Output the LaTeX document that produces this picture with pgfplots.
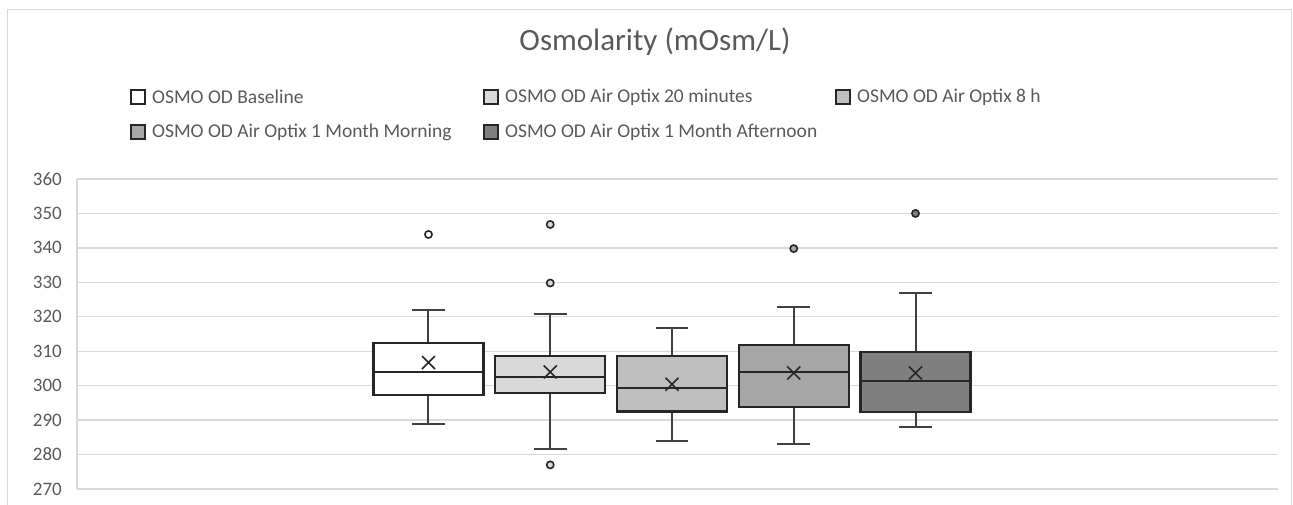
\documentclass[border=0pt]{standalone}
\usepackage{fontspec}
\setmainfont{Carlito}
\usepackage{pgfplots}
\pgfplotsset{compat=1.18}
\definecolor{txt}{HTML}{595959}
\definecolor{gridc}{HTML}{D9D9D9}
\definecolor{c1}{HTML}{FFFFFF}
\definecolor{c2}{HTML}{D9D9D9}
\definecolor{c3}{HTML}{BFBFBF}
\definecolor{c4}{HTML}{A6A6A6}
\definecolor{c5}{HTML}{7F7F7F}
\definecolor{edge}{HTML}{262626}
\definecolor{wh}{HTML}{404040}
\begin{document}
\begin{tikzpicture}
\path[use as bounding box] (0pt,0pt) rectangle (1293pt,505pt);
% chart border
\draw[gridc, line width=1pt] (7pt,0pt) -- (7pt,495pt) -- (1291pt,495pt) -- (1291pt,0pt);
% title
\node[text=txt, font=\fontsize{31}{31}\selectfont] at (655pt,463pt) {Osmolarity (mOsm/L)};
% legend
\foreach \xx/\yy/\cc/\lab in {131/408/c1/{OSMO OD Baseline},484/408/c2/{OSMO OD Air Optix 20 minutes},836/408/c3/{OSMO OD Air Optix 8 h},131/373/c4/{OSMO OD Air Optix 1 Month Morning},484/373/c5/{OSMO OD Air Optix 1 Month Afternoon}}{
  \filldraw[fill=\cc, draw=edge, line width=1.3pt] (\xx pt,\yy pt-7pt) rectangle ++(14pt,14pt);
  \node[anchor=west, inner sep=0pt, text=txt, font=\fontsize{19.5}{19.5}\selectfont] at (\xx pt+21pt,\yy pt) {\lab};
}
\begin{axis}[
  at={(77pt,16pt)}, anchor=south west,
  scale only axis, width=1201pt, height=310pt,
  xmin=-1.887, xmax=7.977, ymin=270, ymax=360,
  ytick={270,280,...,360}, xtick=\empty,
  ymajorgrids, grid style={gridc, line width=1.4pt},
  axis lines*=left, axis line style={gridc, line width=1.4pt},
  major tick length=0pt,
  /pgf/number format/assume math mode=true,
  yticklabel style={font=\fontsize{19}{19}\selectfont, text=txt, inner sep=0pt, xshift=-15pt},
  unbounded coords=jump,
  clip=false,
]
% whiskers
\addplot[wh, line width=2pt, mark=none] coordinates {(1,312.4)(1,322) (nan,nan) (0.865,322)(1.135,322) (nan,nan) (1,297.3)(1,288.8) (nan,nan) (0.865,288.8)(1.135,288.8)};
\addplot[wh, line width=2pt, mark=none] coordinates {(2,308.5)(2,320.7) (nan,nan) (1.865,320.7)(2.135,320.7) (nan,nan) (2,297.9)(2,281.7) (nan,nan) (1.865,281.7)(2.135,281.7)};
\addplot[wh, line width=2pt, mark=none] coordinates {(3,308.5)(3,316.8) (nan,nan) (2.865,316.8)(3.135,316.8) (nan,nan) (3,292.5)(3,284) (nan,nan) (2.865,284)(3.135,284)};
\addplot[wh, line width=2pt, mark=none] coordinates {(4,311.9)(4,322.8) (nan,nan) (3.865,322.8)(4.135,322.8) (nan,nan) (4,293.9)(4,283) (nan,nan) (3.865,283)(4.135,283)};
\addplot[wh, line width=2pt, mark=none] coordinates {(5,309.7)(5,326.8) (nan,nan) (4.865,326.8)(5.135,326.8) (nan,nan) (5,292.3)(5,287.9) (nan,nan) (4.865,287.9)(5.135,287.9)};
% boxes
\addplot[fill=c1, draw=edge, line width=2.2pt, mark=none] coordinates {(0.548,297.3)(1.452,297.3)(1.452,312.4)(0.548,312.4)} -- cycle;
\addplot[fill=c2, draw=edge, line width=2.2pt, mark=none] coordinates {(1.548,297.9)(2.452,297.9)(2.452,308.5)(1.548,308.5)} -- cycle;
\addplot[fill=c3, draw=edge, line width=2.2pt, mark=none] coordinates {(2.548,292.5)(3.452,292.5)(3.452,308.5)(2.548,308.5)} -- cycle;
\addplot[fill=c4, draw=edge, line width=2.2pt, mark=none] coordinates {(3.548,293.9)(4.452,293.9)(4.452,311.9)(3.548,311.9)} -- cycle;
\addplot[fill=c5, draw=edge, line width=2.2pt, mark=none] coordinates {(4.548,292.3)(5.452,292.3)(5.452,309.7)(4.548,309.7)} -- cycle;
% medians
\addplot[edge, line width=2.2pt, mark=none] coordinates {(0.548,304)(1.452,304) (nan,nan) (1.548,302.4)(2.452,302.4) (nan,nan) (2.548,299.4)(3.452,299.4) (nan,nan) (3.548,304)(4.452,304) (nan,nan) (4.548,301.3)(5.452,301.3)};
% outliers
\addplot[only marks, mark=*, mark size=3.6pt, mark options={fill=c1, draw=edge, line width=1.6pt}] coordinates {(1,343.9)};
\addplot[only marks, mark=*, mark size=3.6pt, mark options={fill=c2, draw=edge, line width=1.6pt}] coordinates {(2,346.8) (2,329.8) (2,277)};
\addplot[only marks, mark=*, mark size=3.6pt, mark options={fill=c4, draw=edge, line width=1.6pt}] coordinates {(4,339.8)};
\addplot[only marks, mark=*, mark size=3.6pt, mark options={fill=c5, draw=edge, line width=1.6pt}] coordinates {(5,350)};
% means
\addplot[only marks, mark=x, mark size=9.2pt, draw=edge, line width=1.6pt]
  coordinates {(1,306.7) (2,304) (3,300.4) (4,303.7) (5,303.7)};
\end{axis}
\end{tikzpicture}
\end{document}
